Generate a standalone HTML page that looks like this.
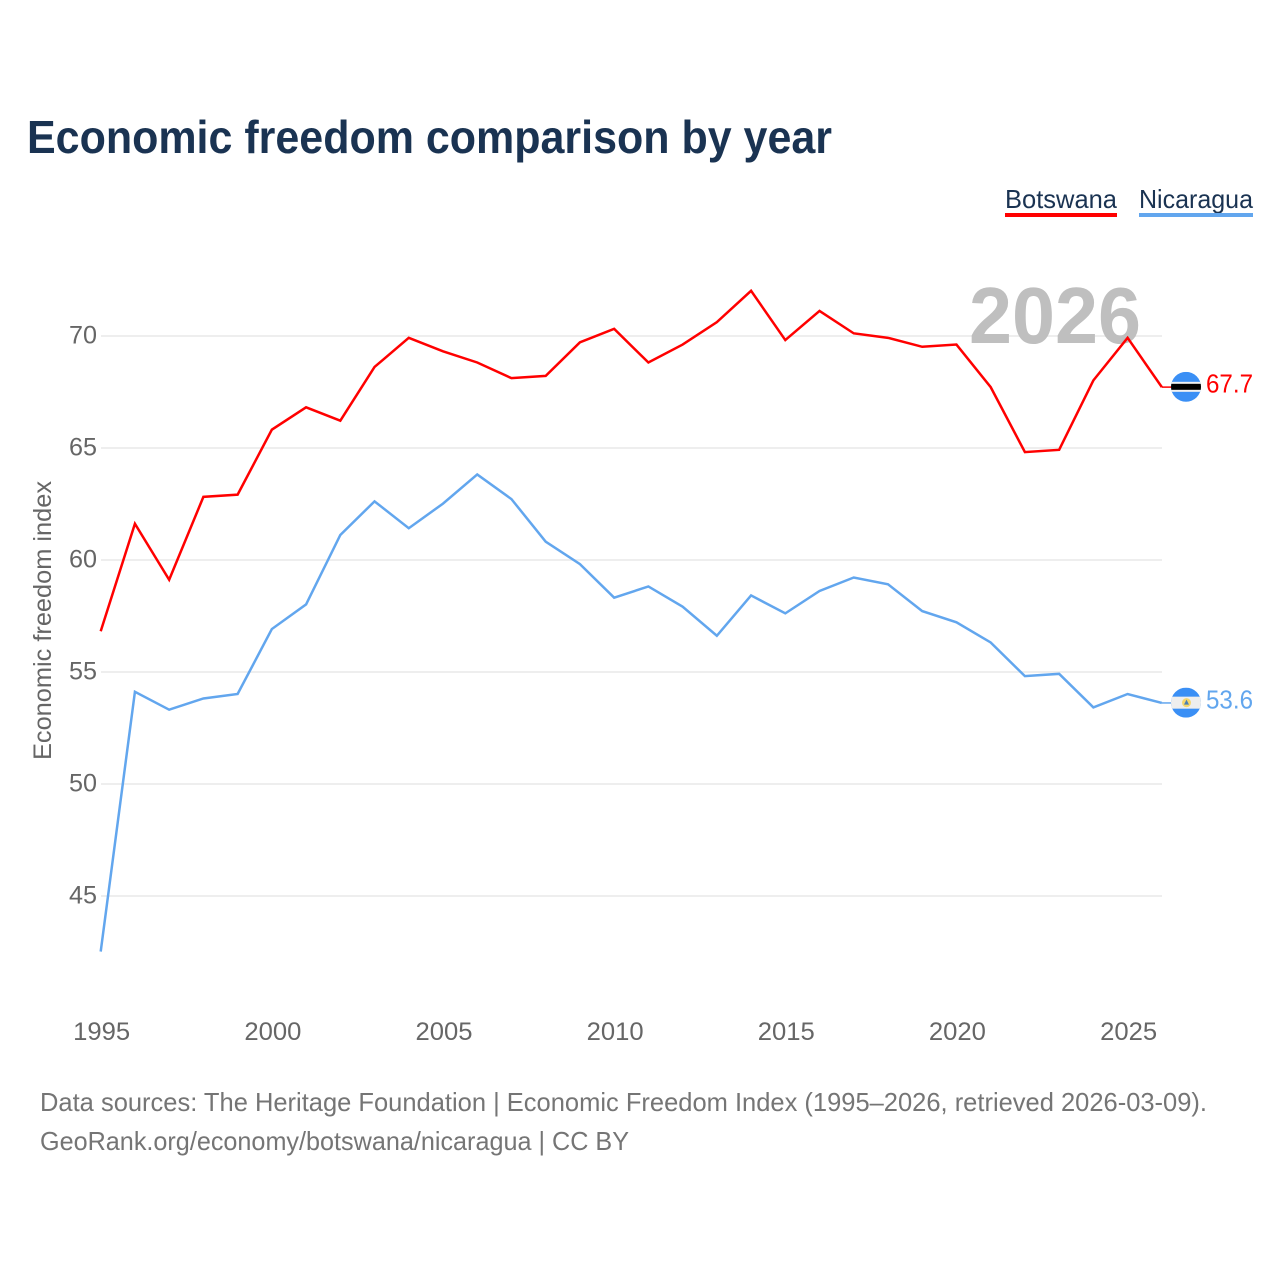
<!DOCTYPE html>
<html lang="en">
<head>
<meta charset="utf-8">
<title>Economic freedom comparison by year</title>
<style>
html,body{margin:0;padding:0;background:#fff;}
svg{display:block;font-family:"Liberation Sans",sans-serif;}
</style>
</head>
<body>
<svg id="chart" width="1280" height="1280" viewBox="0 0 1280 1280" xmlns="http://www.w3.org/2000/svg">
  <defs>
    <clipPath id="flag-clip-a"><circle cx="0" cy="0" r="15"></circle></clipPath>
  </defs>
  <rect x="0" y="0" width="1280" height="1280" fill="#ffffff"></rect>
  <text x="27" y="153" font-size="46" font-weight="700" fill="#1a3352" textLength="805" lengthAdjust="spacingAndGlyphs">Economic freedom comparison by year</text>
  <g>
    <text x="1005" y="208" font-size="26" fill="#1a3352" textLength="112" lengthAdjust="spacingAndGlyphs">Botswana</text>
    <rect x="1005" y="213" width="112" height="4" fill="#ff0000"></rect>
    <text x="1139" y="208" font-size="26" fill="#1a3352" textLength="114" lengthAdjust="spacingAndGlyphs">Nicaragua</text>
    <rect x="1139" y="213" width="114" height="4" fill="#62a6ee"></rect>
  </g>
  <g id="grid"></g>
  <g id="y-ticks"></g>
  <g id="x-ticks"></g>
  <text transform="translate(51 760) rotate(-90)" x="0" y="0" font-size="25" fill="#666666" textLength="279" lengthAdjust="spacingAndGlyphs">Economic freedom index</text>
  <text id="year-label" x="969" y="343" font-size="80" font-weight="700" fill="#bfbfbf" textLength="172" lengthAdjust="spacingAndGlyphs">2026</text>
  <g id="series"></g>
  <g id="end-markers"></g>
  <g>
    <text x="40" y="1111" font-size="26" fill="#757575" textLength="1167" lengthAdjust="spacingAndGlyphs">Data sources: The Heritage Foundation | Economic Freedom Index (1995–2026, retrieved 2026-03-09).</text>
    <text x="40" y="1150" font-size="26" fill="#757575" textLength="589" lengthAdjust="spacingAndGlyphs">GeoRank.org/economy/botswana/nicaragua | CC BY</text>
  </g>
</svg>
<script>
const years = [1995,1996,1997,1998,1999,2000,2001,2002,2003,2004,2005,2006,2007,2008,2009,2010,2011,2012,2013,2014,2015,2016,2017,2018,2019,2020,2021,2022,2023,2024,2025,2026];
const botswana = [56.8,61.6,59.1,62.8,62.9,65.8,66.8,66.2,68.6,69.9,69.3,68.8,68.1,68.2,69.7,70.3,68.8,69.6,70.6,72.0,69.8,71.1,70.1,69.9,69.5,69.6,67.7,64.8,64.9,68.0,69.9,67.7];
const nicaragua = [42.5,54.1,53.3,53.8,54.0,56.9,58.0,61.1,62.6,61.4,62.5,63.8,62.7,60.8,59.8,58.3,58.8,57.9,56.6,58.4,57.6,58.6,59.2,58.9,57.7,57.2,56.3,54.8,54.9,53.4,54.0,53.6];
const yTickValues = [45,50,55,60,65,70];
const xTickValues = [1995,2000,2005,2010,2015,2020,2025];

const NS = 'http://www.w3.org/2000/svg';
function xScale(year) { return 100.7 + (year - 1995) * (1127.6 - 100.7) / 30; }
function yScale(value) { return 335.6 + (70 - value) * 22.4; }
function make(tag, attrs, parent) {
  const el = document.createElementNS(NS, tag);
  for (const k in attrs) el.setAttribute(k, attrs[k]);
  parent.appendChild(el);
  return el;
}

const gridGroup = document.getElementById('grid');
const yTickGroup = document.getElementById('y-ticks');
yTickValues.forEach(function (v) {
  const line = make('line', {x1: 101, x2: 1162, y1: yScale(v) + 0.4, y2: yScale(v) + 0.4, stroke: '#eeeeee', 'stroke-width': 2}, gridGroup);
  
  
  const label = make('text', {x: 97, y: yScale(v) + 8, 'text-anchor': 'end', 'font-size': 25, fill: '#666666', textLength: 28, lengthAdjust: 'spacingAndGlyphs'}, yTickGroup);
  
  
  label.textContent = String(v);
});

const xTickGroup = document.getElementById('x-ticks');
xTickValues.forEach(function (yr) {
  const label = make('text', {x: xScale(yr) + 1, y: 1040, 'text-anchor': 'middle', 'font-size': 25, fill: '#666666', textLength: 57, lengthAdjust: 'spacingAndGlyphs'}, xTickGroup);
  
  
  label.textContent = String(yr);
});

function linePoints(values) {
  return values.map(function (v, i) { return xScale(years[i]).toFixed(2) + ',' + yScale(v).toFixed(2); }).join(' ');
}
const seriesGroup = document.getElementById('series');
const botswanaLine = make('polyline', {points: linePoints(botswana), fill: 'none', stroke: '#ff0000', 'stroke-width': 2.5, 'stroke-linejoin': 'miter'}, seriesGroup);


const nicaraguaLine = make('polyline', {points: linePoints(nicaragua), fill: 'none', stroke: '#62a6ee', 'stroke-width': 2.5, 'stroke-linejoin': 'miter'}, seriesGroup);



const markerGroup = document.getElementById('end-markers');
function addMarker(key, value, color, drawFlag) {
  const y = yScale(value);
  const x = xScale(years[years.length - 1]);
  const stub = make('line', {x1: x, x2: x + 10, y1: y, y2: y, stroke: color, 'stroke-width': 1.5}, markerGroup);
  
  
  const flag = make('g', {transform: 'translate(1186 ' + (y - 0.3).toFixed(2) + ')', 'clip-path': 'url(#flag-clip-a)'}, markerGroup);
  
  
  drawFlag(flag);
  const label = make('text', {x: 1206, y: y + 5.5, 'font-size': 26, fill: color, textLength: 47, lengthAdjust: 'spacingAndGlyphs'}, markerGroup);
  
  
  label.textContent = value.toFixed(1);
}
addMarker('botswana', botswana[botswana.length - 1], '#ff0000', function (g) {
  make('rect', {x: -15, y: -15, width: 30, height: 30, fill: '#3a8ff5'}, g);
  make('rect', {x: -15, y: -5, width: 30, height: 10, fill: '#f2f2f2'}, g);
  make('rect', {x: -15, y: -3, width: 30, height: 6, fill: '#000000'}, g);
});
addMarker('nicaragua', nicaragua[nicaragua.length - 1], '#62a6ee', function (g) {
  make('rect', {x: -15, y: -15, width: 30, height: 30, fill: '#3a8ff5'}, g);
  make('rect', {x: -15, y: -6, width: 30, height: 12, fill: '#eeeeee'}, g);
  make('circle', {cx: 0.5, cy: 0, r: 4.5, fill: '#f5d76e'}, g);
  make('polygon', {points: '0.5,-3 3,2 -2,2', fill: '#4a7fb5'}, g);
});
</script>
</body>
</html>
